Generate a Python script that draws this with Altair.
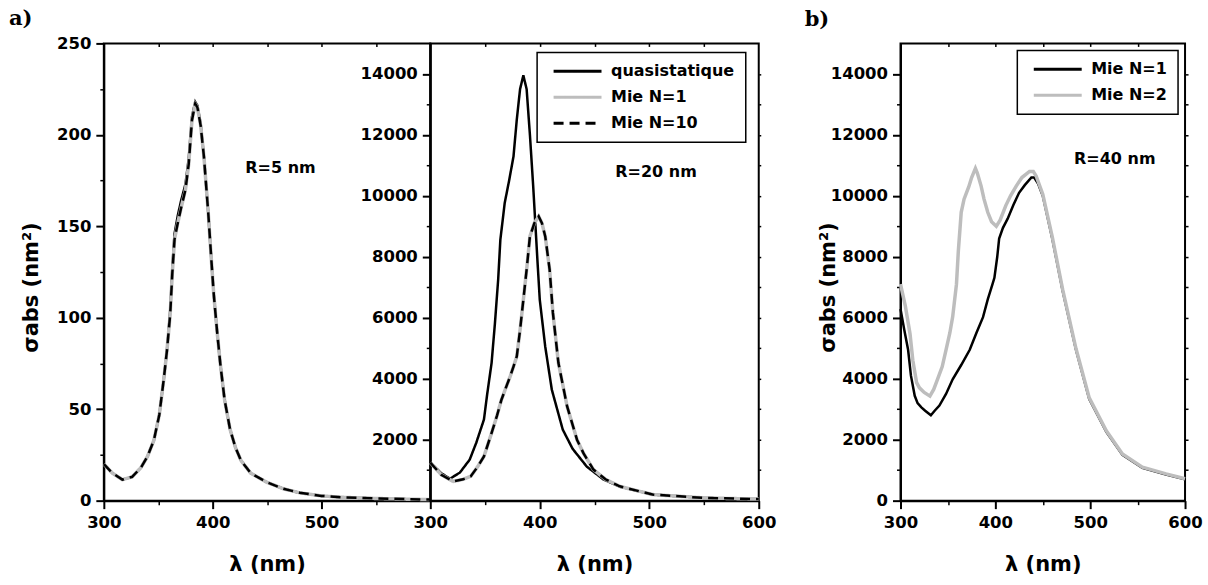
import altair as alt
import pandas as pd

FONT = "DejaVu Sans"
GRAY = "#bdbdbd"

# ---------------- panel a, left : R = 5 nm ----------------
wl_a1 = [300, 308, 317, 326, 334, 340, 346, 351, 355, 358,
         361, 363, 365, 368, 371, 375, 378, 381, 384, 386,
         389, 392, 396, 399, 401, 404, 407, 411, 416, 421,
         426, 435, 450, 465, 480, 500, 520, 550, 580, 600]
quasi_a1 = [20, 15, 11.5, 13, 18, 24, 33, 47, 66, 82,
            104, 128, 146, 156, 164, 173, 187, 210, 218, 216,
            206, 188, 157, 130, 113, 93, 75, 55, 39, 29,
            22, 15, 10, 6.5, 4.3, 2.6, 1.8, 1.2, 0.8, 0.6]
mie1_a1 = [20, 15, 11.5, 13, 18, 24, 33, 47, 66, 82,
           102, 125, 143, 152, 160, 170, 184, 208, 217, 215,
           205, 188, 157, 130, 113, 93, 75, 55, 39, 29,
           22, 15, 10, 6.5, 4.3, 2.6, 1.8, 1.2, 0.8, 0.6]
mie10_a1 = [20, 15, 11.5, 13, 18, 24, 33, 47, 66, 82,
            102, 125, 143, 152, 160, 170, 184, 208, 217, 215,
            205, 188, 157, 130, 113, 93, 75, 55, 39, 29,
            22, 15, 10, 6.5, 4.3, 2.6, 1.8, 1.2, 0.8, 0.6]

# ---------------- panel a, right : R = 20 nm ----------------
wl_a2_q = [300, 310, 318, 327, 336, 342, 349, 352, 356, 359,
           362, 364, 368, 372, 376, 379, 382, 385, 388, 391,
           394, 398, 400, 405, 411, 421, 430, 443, 458, 473,
           503, 550, 600]
quasi_a2 = [1250, 900, 720, 920, 1345, 1900, 2660, 3500, 4520, 5800,
            7250, 8560, 9770, 10500, 11290, 12500, 13500, 13950, 13500, 12000,
            10310, 7800, 6590, 5050, 3640, 2330, 1700, 1115, 700, 460,
            200, 90, 50]
wl_a2_m = [300, 310, 321, 330, 337, 343, 349, 356, 361, 365,
           369, 373, 376, 379, 382, 385, 388, 391, 395, 399,
           402, 405, 409, 412, 417, 425, 434, 440, 449, 460,
           473, 503, 550, 600]
mie1_a2 = [1250, 850, 630, 700, 800, 1100, 1450, 2220, 2800, 3310,
           3700, 4080, 4400, 4730, 5600, 6590, 7580, 8670, 9100, 9325,
           9100, 8670, 7580, 6160, 4520, 3090, 2000, 1550, 1020, 700,
           470, 200, 90, 50]
mie10_a2 = [1250, 850, 630, 700, 800, 1100, 1450, 2220, 2800, 3310,
            3700, 4080, 4400, 4730, 5600, 6590, 7580, 8670, 9100, 9325,
            9100, 8670, 7580, 6160, 4520, 3090, 2000, 1550, 1020, 700,
            470, 200, 90, 50]

# ---------------- panel b : R = 40 nm ----------------
wl_b1 = [300, 304, 308, 311, 315, 318, 322, 326, 332, 336,
         341, 348, 355, 364, 373, 380, 387, 392, 397, 399,
         402, 404, 408, 413, 419, 425, 431, 438, 441, 445,
         450, 460, 471, 485, 499, 517, 534, 555, 580, 600]
mie1_b = [6290, 5600, 4950, 4100, 3440, 3200, 3060, 2950, 2800, 2950,
          3120, 3500, 3980, 4450, 4950, 5500, 6020, 6600, 7100, 7310,
          8000, 8600, 8950, 9250, 9700, 10100, 10350, 10600, 10600, 10400,
          10000, 8600, 6880, 4950, 3330, 2260, 1500, 1075, 860, 700]
wl_b2 = [300, 305, 310, 313, 317, 320, 325, 331, 335, 339,
         344, 348, 352, 355, 359, 361, 364, 367, 372, 375,
         379, 381, 385, 388, 392, 396, 401, 405, 411, 416,
         422, 428, 436, 440, 443, 450, 460, 471, 485, 499,
         517, 534, 555, 580, 600]
mie2_b = [7100, 6400, 5480, 4600, 3870, 3700, 3550, 3430, 3650, 3980,
          4400, 4950, 5500, 6030, 7100, 8200, 9460, 9890, 10300, 10600,
          10900, 10750, 10320, 9900, 9460, 9150, 9000, 9200, 9680, 10000,
          10320, 10600, 10800, 10800, 10650, 10050, 8650, 6920, 4990, 3370,
          2290, 1530, 1100, 880, 720]

series_a = ["quasistatique", "Mie N=1", "Mie N=10"]
series_b = ["Mie N=1", "Mie N=2"]

# annotations
ann_a1 = {"wl": [430], "val": [179], "t": ["R=5 nm"]}
ann_a2 = {"wl": [469], "val": [10610], "t": ["R=20 nm"]}
ann_b = {"wl": [483], "val": [11040], "t": ["R=40 nm"]}

# tick values
x_major_a1 = [300, 400, 500]
x_major = [300, 400, 500, 600]
x_minor = [350, 450, 550]
x_top = [350, 400, 450, 500, 550]
y_major_a1 = [0, 50, 100, 150, 200, 250]
y_minor_a1 = [25, 75, 125, 175, 225]
y_major_a2 = [2000, 4000, 6000, 8000, 10000, 12000, 14000]
y_major_b = [0, 2000, 4000, 6000, 8000, 10000, 12000, 14000]
y_minor_big = [1000, 3000, 5000, 7000, 9000, 11000, 13000]
y_right_big = [1000, 2000, 3000, 4000, 5000, 6000, 7000, 8000, 9000,
               10000, 11000, 12000, 13000, 14000]

XTITLE = "λ (nm)"
YTITLE = "σabs (nm²)"
H = 458


def long_df(wl, vals, name):
    return pd.DataFrame({"wl": wl, "val": vals, "series": name})


df_a1 = pd.concat([long_df(wl_a1, quasi_a1, "quasistatique"),
                   long_df(wl_a1, mie1_a1, "Mie N=1"),
                   long_df(wl_a1, mie10_a1, "Mie N=10")])
df_a2 = pd.concat([long_df(wl_a2_q, quasi_a2, "quasistatique"),
                   long_df(wl_a2_m, mie1_a2, "Mie N=1"),
                   long_df(wl_a2_m, mie10_a2, "Mie N=10")])
df_b = pd.concat([long_df(wl_b1, mie1_b, "Mie N=1"),
                  long_df(wl_b2, mie2_b, "Mie N=2")])

sx = alt.Scale(domain=[300, 600], nice=False, zero=False)
sy_a1 = alt.Scale(domain=[0, 250], nice=False)
sy_big = alt.Scale(domain=[0, 15000], nice=False)

label_kw = dict(labelFont=FONT, labelFontSize=16.5, labelFontWeight="bold",
                labelColor="black", labelOverlap=False, labelFlush=False,
                format="d")
title_kw = dict(titleFont=FONT, titleFontSize=21, titleFontWeight="bold",
                titleColor="black")


def major_x(values, tx):
    return alt.Axis(orient="bottom", values=values, tickSize=8, tickWidth=2,
                    tickColor="black", domainColor="black", domainWidth=2,
                    grid=False, labelPadding=6, title=XTITLE, titleX=tx,
                    titleY=53, **label_kw, **title_kw)


def major_y(values, title):
    kw = dict(orient="left", values=values, tickSize=8, tickWidth=2,
              tickColor="black", domainColor="black", domainWidth=2,
              grid=False, labelPadding=5, **label_kw)
    if title:
        return alt.Axis(title=title, titleX=-62, titleY=244, **kw, **title_kw)
    return alt.Axis(title="", **kw)


def minor(orient, values, size=4, offset=0):
    return alt.Axis(orient=orient, values=values, tickSize=size,
                    tickWidth=1.5, tickColor="black", domain=False,
                    labels=False, grid=False, title="", offset=offset)


def line(df, name, color_enc, dash_enc, sy, xa, ya, width):
    enc = dict(x=alt.X("wl:Q", scale=sx, axis=xa),
               y=alt.Y("val:Q", scale=sy, axis=ya),
               color=color_enc)
    if dash_enc is not None:
        enc["strokeDash"] = dash_enc
    return (alt.Chart(df).transform_filter(alt.datum.series == name)
            .mark_line(strokeWidth=width).encode(**enc))


def ann(d, sy):
    return alt.Chart(pd.DataFrame(d)).mark_text(
        align="left", baseline="alphabetic", font=FONT, fontSize=16,
        fontWeight="bold", color="black").encode(
        x=alt.X("wl:Q", scale=sx, axis=None),
        y=alt.Y("val:Q", scale=sy, axis=None), text="t:N")


def tag(label, dx, dy):
    return alt.Chart(pd.DataFrame({"t": [label]})).mark_text(
        align="left", baseline="alphabetic", font="DejaVu Serif",
        fontSize=21, fontWeight="bold", color="black").encode(
        x=alt.value(dx), y=alt.value(dy), text="t:N")


def legend(lx, ly):
    return alt.Legend(orient="none", legendX=lx, legendY=ly, title=None,
                      symbolType="stroke", symbolSize=2304,
                      symbolStrokeWidth=3, labelFont=FONT, labelFontSize=16,
                      labelFontWeight="bold", labelColor="black",
                      labelOffset=8, padding=11, rowPadding=10, clipHeight=16,
                      strokeColor="black", fillColor="white", labelLimit=400,
                      symbolOffset=4)


# ---- panel a left ----
col_a1 = alt.Color("series:N", scale=alt.Scale(domain=series_a, range=["black", GRAY, "black"]), legend=None)
dash_a1 = alt.StrokeDash("series:N", scale=alt.Scale(domain=series_a, range=[[1, 0], [1, 0], [10, 6]]), legend=None)
p1 = alt.layer(
    line(df_a1, "quasistatique", col_a1, dash_a1, sy_a1,
         major_x(x_major_a1, 163.5), major_y(y_major_a1, YTITLE), 2.5),
    line(df_a1, "Mie N=1", col_a1, dash_a1, sy_a1,
         minor("bottom", x_minor), minor("left", y_minor_a1), 3.5),
    line(df_a1, "Mie N=10", col_a1, dash_a1, sy_a1,
         minor("top", x_top, 3, -3), None, 2.5),
    ann(ann_a1, sy_a1),
    tag("a)", -95, -18),
).resolve_axis(x="independent", y="independent").properties(width=327, height=H)

# ---- panel a right ----
leg2 = legend(107, 9)
col_a2 = alt.Color("series:N", scale=alt.Scale(domain=series_a, range=["black", GRAY, "black"]), legend=leg2)
dash_a2 = alt.StrokeDash("series:N", scale=alt.Scale(domain=series_a, range=[[1, 0], [1, 0], [10, 6]]), legend=leg2)
p2 = alt.layer(
    line(df_a2, "quasistatique", col_a2, dash_a2, sy_big,
         major_x(x_major, 164.5), major_y(y_major_a2, None), 2.5),
    line(df_a2, "Mie N=1", col_a2, dash_a2, sy_big,
         minor("bottom", x_minor), minor("left", y_minor_big), 3.5),
    line(df_a2, "Mie N=10", col_a2, dash_a2, sy_big,
         minor("top", x_top, 3, -3), minor("right", y_right_big, 2), 2.5),
    ann(ann_a2, sy_big),
).resolve_axis(x="independent", y="independent").properties(width=329, height=H)

# ---- spacer ----
spacer = alt.Chart(pd.DataFrame({"s": [0]})).mark_point(opacity=0).encode(
    x=alt.value(0), y=alt.value(0)).properties(
    width=142, height=H, view=alt.ViewBackground(stroke="transparent"))

# ---- panel b ----
legb = legend(117, 7)
col_b = alt.Color("series:N", scale=alt.Scale(domain=series_b, range=["black", GRAY]), legend=legb)
pb = alt.layer(
    line(df_b, "Mie N=1", col_b, None, sy_big,
         major_x(x_major, 142.5), major_y(y_major_b, YTITLE), 2.5),
    line(df_b, "Mie N=2", col_b, None, sy_big,
         minor("bottom", x_minor), minor("left", y_minor_big), 3.5),
    ann(ann_b, sy_big).encode(
        x=alt.X("wl:Q", scale=sx, axis=minor("top", x_top, 3, -3)),
        y=alt.Y("val:Q", scale=sy_big, axis=minor("right", y_right_big, 3))),
    tag("b)", -96, -17),
).resolve_axis(x="independent", y="independent").properties(width=285, height=H)

chart = alt.hconcat(p1, p2, spacer, pb, spacing=0, bounds="flush").resolve_scale(
    color="independent", strokeDash="independent"
).properties(
    padding={"left": 8, "top": 7, "right": 4, "bottom": 4},
    background="white",
).configure_view(stroke="black", strokeWidth=2).configure_legend(strokeWidth=1.5)

chart.save("out.html", embed_options={"renderer": "svg", "actions": False})
